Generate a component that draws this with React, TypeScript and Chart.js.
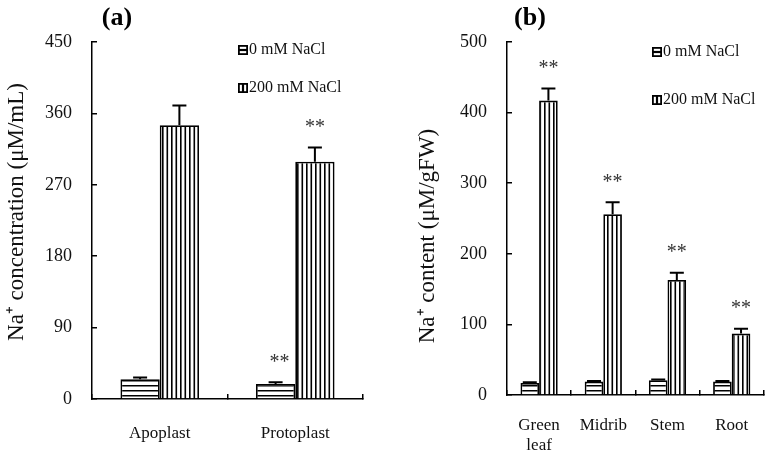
import React, { useEffect, useRef } from "react";
import { Chart, registerables } from "chart.js";
Chart.register(...registerables);

// ---------- data ----------
const seriesNames = ["0 mM NaCl", "200 mM NaCl"];

const catsA = ["Apoplast", "Protoplast"];
const a0 = [25, 19];
const a0Err = [2, 2];
const a200 = [345, 299];
const a200Err = [25, 18];
const a0Sig = ["", "**"];
const a200Sig = ["", "**"];
const ticksA = [0, 90, 180, 270, 360, 450];

const catsB = [["Green", "leaf"], "Midrib", "Stem", "Root"];
const b0 = [17, 19, 21, 19];
const b0Err = [1, 1, 1, 1];
const b200 = [417, 256, 163, 87];
const b200Err = [17, 17, 10, 7];
const b0Sig = ["", "", "", ""];
const b200Sig = ["**", "**", "**", "**"];
const ticksB = [0, 100, 200, 300, 400, 500];

const SERIF = "'Liberation Serif', 'Times New Roman', serif";

function makePattern(kind: "h" | "v"): CanvasPattern | string {
  const c = document.createElement("canvas");
  if (kind === "h") {
    c.width = 4;
    c.height = 5;
  } else {
    c.width = 9;
    c.height = 4;
  }
  const g = c.getContext("2d");
  if (!g) return "#fff";
  g.fillStyle = "#fff";
  g.fillRect(0, 0, c.width, c.height);
  g.fillStyle = "#000";
  if (kind === "h") {
    g.fillRect(0, 0, 4, 1.5);
  } else {
    g.fillRect(0, 0, 1.6, 4);
    g.fillRect(4.5, 0, 1.6, 4);
  }
  const p = g.createPattern(c, "repeat");
  return p || "#fff";
}

type PanelCfg = {
  errs: number[][];
  sigs: string[][];
  yTitle: string;
  yTitleX: number;
  yTitleY: number;
  panel: string;
  panelX: number;
  panelY: number;
  legendX: number;
  legendYs: number[];
};

function overlayPlugin(cfg: PanelCfg) {
  return {
    id: "overlay",
    afterDatasetsDraw(chart: any) {
      const ctx: CanvasRenderingContext2D = chart.ctx;
      const yScale = chart.scales.y;
      ctx.save();
      chart.data.datasets.forEach((ds: any, di: number) => {
        const meta = chart.getDatasetMeta(di);
        meta.data.forEach((bar: any, i: number) => {
          const v = ds.data[i];
          const e = cfg.errs[di][i];
          const top = yScale.getPixelForValue(v + e);
          ctx.strokeStyle = "#000";
          ctx.lineWidth = 2;
          ctx.beginPath();
          ctx.moveTo(bar.x, bar.y);
          ctx.lineTo(bar.x, top);
          ctx.moveTo(bar.x - 7, top);
          ctx.lineTo(bar.x + 7, top);
          ctx.stroke();
          const s = cfg.sigs[di][i];
          if (s) {
            ctx.fillStyle = "#333";
            ctx.font = `20px ${SERIF}`;
            ctx.textAlign = "center";
            ctx.textBaseline = "middle";
            ctx.fillText(s, bar.x + (di === 0 ? 4 : 0), top - 20);
          }
        });
      });
      ctx.restore();
    },
    afterDraw(chart: any) {
      const ctx: CanvasRenderingContext2D = chart.ctx;
      ctx.save();
      // panel label
      ctx.fillStyle = "#000";
      ctx.font = `bold 26px ${SERIF}`;
      ctx.textAlign = "center";
      ctx.textBaseline = "middle";
      ctx.fillText(cfg.panel, cfg.panelX, cfg.panelY);
      // y title
      ctx.save();
      ctx.translate(cfg.yTitleX, cfg.yTitleY);
      ctx.rotate(-Math.PI / 2);
      ctx.font = `23px ${SERIF}`;
      ctx.fillStyle = "#111";
      ctx.textAlign = "center";
      ctx.textBaseline = "middle";
      ctx.fillText(cfg.yTitle, 0, 0);
      ctx.restore();
      // legend
      seriesNames.forEach((name, k) => {
        const x = cfg.legendX;
        const y = cfg.legendYs[k];
        ctx.fillStyle = "#000";
        ctx.fillRect(x, y - 5, 10, 10);
        ctx.fillStyle = "#fff";
        if (k === 0) {
          ctx.fillRect(x + 1.8, y - 3.2, 6.4, 2.1);
          ctx.fillRect(x + 1.8, y + 1.1, 6.4, 2.1);
        } else {
          ctx.fillRect(x + 1.8, y - 3.2, 2.1, 6.4);
          ctx.fillRect(x + 6.1, y - 3.2, 2.1, 6.4);
        }
        ctx.fillStyle = "#111";
        ctx.font = `16px ${SERIF}`;
        ctx.textAlign = "left";
        ctx.textBaseline = "middle";
        ctx.fillText(name, x + 11, y);
      });
      ctx.restore();
    },
  };
}

function buildConfig(
  labels: any[],
  d0: number[],
  d200: number[],
  ticks: number[],
  yMax: number,
  yWidth: number,
  xHeight: number,
  padRight: number,
  padTop: number,
  xPad: number,
  cfg: PanelCfg
): any {
  const axisCommon = {
    grid: {
      drawOnChartArea: false,
      tickLength: -5,
      color: "#000",
      lineWidth: 1.5,
    },
    border: { color: "#000", width: 1.5 },
  };
  return {
    type: "bar",
    data: {
      labels,
      datasets: [
        {
          label: seriesNames[0],
          data: d0,
          backgroundColor: makePattern("h"),
          borderColor: "#000",
          borderWidth: 1.8,
          categoryPercentage: 0.58,
          barPercentage: 1.0,
        },
        {
          label: seriesNames[1],
          data: d200,
          backgroundColor: makePattern("v"),
          borderColor: "#000",
          borderWidth: 1.8,
          categoryPercentage: 0.58,
          barPercentage: 1.0,
        },
      ],
    },
    options: {
      animation: false,
      responsive: false,
      devicePixelRatio: 1,
      layout: { padding: { top: padTop, right: padRight, left: 0, bottom: 0 } },
      plugins: { legend: { display: false }, tooltip: { enabled: false } },
      scales: {
        x: {
          ...axisCommon,
          grid: { ...axisCommon.grid, offset: true },
          ticks: {
            color: "#111",
            font: { family: SERIF, size: 17 },
            padding: xPad,
            maxRotation: 0,
            autoSkip: false,
          },
          afterFit: (s: any) => {
            s.height = xHeight;
          },
        },
        y: {
          ...axisCommon,
          min: 0,
          max: yMax,
          afterBuildTicks: (s: any) => {
            s.ticks = ticks.map((v) => ({ value: v }));
          },
          ticks: {
            color: "#111",
            font: { family: SERIF, size: 18 },
            padding: 25,
          },
          afterFit: (s: any) => {
            s.width = yWidth;
          },
        },
      },
    },
    plugins: [overlayPlugin(cfg)],
  };
}

export default function App() {
  const refA = useRef<HTMLCanvasElement>(null);
  const refB = useRef<HTMLCanvasElement>(null);

  useEffect(() => {
    if (!refA.current || !refB.current) return;
    const chartA = new Chart(
      refA.current,
      buildConfig(catsA, a0, a200, ticksA, 450, 92, 60, 27, 42, 29, {
        errs: [a0Err, a200Err],
        sigs: [a0Sig, a200Sig],
        yTitle: "Na\u207A concentration (\u03BCM/mL)",
        yTitleX: 17,
        yTitleY: 212,
        panel: "(a)",
        panelX: 117,
        panelY: 18,
        legendX: 238,
        legendYs: [50, 88],
      })
    );
    const chartB = new Chart(
      refB.current,
      buildConfig(catsB, b0, b200, ticksB, 500, 107, 64, 6, 42, 25, {
        errs: [b0Err, b200Err],
        sigs: [b0Sig, b200Sig],
        yTitle: "Na\u207A content (\u03BCM/gFW)",
        yTitleX: 28,
        yTitleY: 236,
        panel: "(b)",
        panelX: 130,
        panelY: 18,
        legendX: 252,
        legendYs: [52, 100],
      })
    );
    return () => {
      chartA.destroy();
      chartB.destroy();
    };
  }, []);

  return (
    <div
      style={{
        position: "fixed",
        left: 0,
        top: 0,
        width: 774,
        height: 459,
        background: "#fff",
        overflow: "hidden",
      }}
    >
      <canvas
        ref={refA}
        width={390}
        height={459}
        style={{ position: "absolute", left: 0, top: 0, width: 390, height: 459 }}
      />
      <canvas
        ref={refB}
        width={374}
        height={459}
        style={{ position: "absolute", left: 400, top: 0, width: 374, height: 459 }}
      />
    </div>
  );
}
